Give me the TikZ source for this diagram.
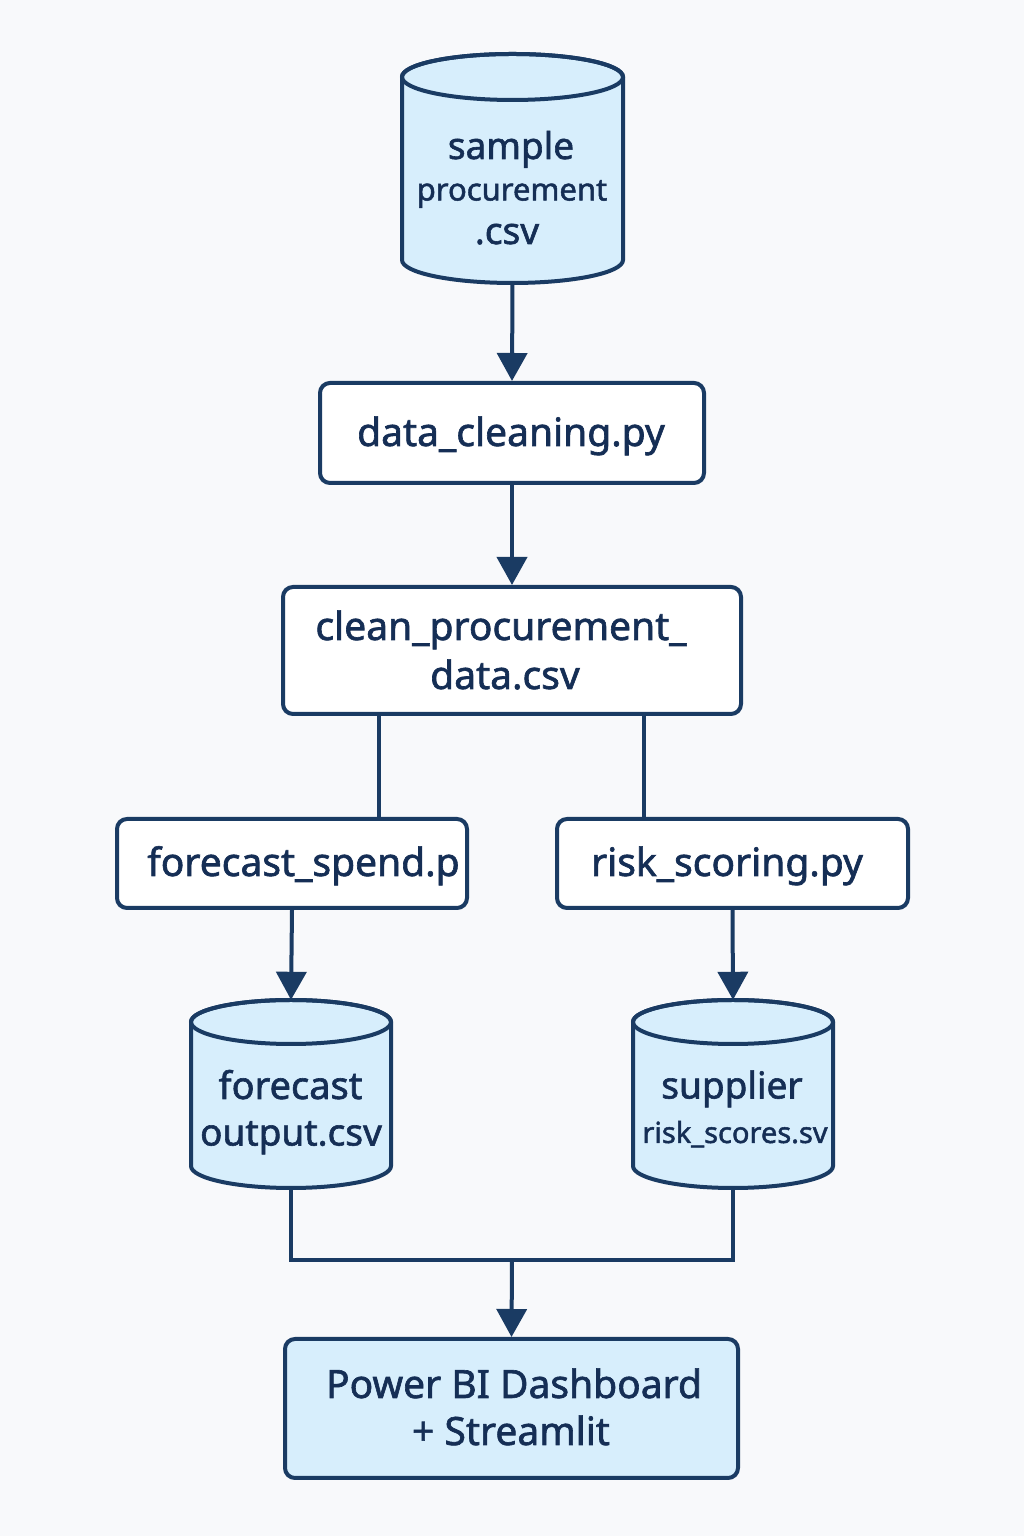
\documentclass[tikz,border=0pt]{standalone}
\usepackage{fontspec}
\setmainfont{Noto Sans}
\newfontfamily\medf{Noto Sans}[FakeBold=1.6]
\usetikzlibrary{arrows.meta}
\definecolor{bg}{HTML}{F8F9FB}
\definecolor{ln}{HTML}{1A3B63}
\definecolor{tx}{HTML}{152E55}
\definecolor{lb}{HTML}{D7EEFC}
\newcommand\drawcyl[5]{%
  \filldraw[cylfill] (#1-#4,#2-#5) -- (#1-#4,#3+#5)
    arc[start angle=180,end angle=360,x radius=#4,y radius=#5]
    -- (#1+#4,#2-#5)
    arc[start angle=0,end angle=180,x radius=#4,y radius=#5] -- cycle;
  \draw[ln,line width=4pt] (#1,#2-#5) ellipse[x radius=#4,y radius=#5];}
\begin{document}
\begin{tikzpicture}[x=1pt,y=1pt,
  box/.style={draw=ln, line width=4pt, rounded corners=10pt, fill=white, inner sep=0pt},
  hold/.style={inner sep=0pt},
  lbl/.style={text=tx, font=\medf\fontsize{39}{39}\selectfont, inner sep=0pt, anchor=base},
  conn/.style={draw=ln, line width=4pt},
  arr/.style={conn, -{Triangle[width=30pt,length=28pt]}},
  cylfill/.style={draw=ln, line width=4pt, fill=lb}]
\fill[bg] (0,0) rectangle (1024,1536);
\useasboundingbox (0,0) rectangle (1024,1536);

% cylinders
\drawcyl{512.5}{1482}{1253}{110.5}{23}
\node[hold, minimum width=221pt, minimum height=229pt] (src) at (512.5,1367.5) {};
\drawcyl{291}{536}{348}{100}{22}
\node[hold, minimum width=200pt, minimum height=188pt] (fout) at (291,442) {};
\drawcyl{733}{536}{348}{100}{22}
\node[hold, minimum width=200pt, minimum height=188pt] (sup) at (733,442) {};

% boxes
\node[box, minimum width=384pt, minimum height=100pt] (clean1) at (512,1103) {};
\node[box, minimum width=458pt, minimum height=127pt] (clean) at (512,885.5) {};
\node[box, minimum width=350pt, minimum height=89pt] (fspend) at (292,672.5) {};
\node[box, minimum width=351pt, minimum height=89pt] (risk) at (732.5,672.5) {};
\node[box, fill=lb, minimum width=453pt, minimum height=139pt] (pbi) at (511.5,127.5) {};

% texts
\node[lbl, font=\medf\fontsize{37}{37}\selectfont] (t1) at (511,1377) {sample};
\node[lbl, font=\medf\fontsize{31}{31}\selectfont] (t2) at (512,1335.5) {procurement};
\node[lbl, font=\medf\fontsize{37}{37}\selectfont] (t3) at (507,1292) {.csv};
\node[lbl] (t4) at (511,1090) {data\_cleaning.py};
\node[lbl] (t5) at (501,896) {clean\_procurement\_};
\node[lbl] (t6) at (505,847) {data.csv};
\node[lbl] (t7) at (303.5,660) {forecast\_spend.p};
\node[lbl] (t8) at (727,660) {risk\_scoring.py};
\node[lbl, font=\medf\fontsize{38}{38}\selectfont] (t9) at (290.5,437) {forecast};
\node[lbl, font=\medf\fontsize{37}{37}\selectfont] (t10) at (291,390.5) {output.csv};
\node[lbl, font=\medf\fontsize{37}{37}\selectfont] (t11) at (732,437.5) {supplier};
\node[lbl, font=\medf\fontsize{29}{29}\selectfont] (t12) at (735,393) {risk\_scores.sv};
\node[lbl] (t13) at (514,138) {Power BI Dashboard};
\node[lbl] (t14) at (511,91) {+ Streamlit};

% connectors
\draw[arr] (src.south) -- (clean1.north);
\draw[arr] (clean1.south) -- (clean.north);
\draw[conn] ([xshift=-133pt]clean.south) -- ([xshift=87pt]fspend.north);
\draw[conn] ([xshift=132pt]clean.south) -- ([xshift=-88.5pt]risk.north);
\draw[arr] (fspend.south) -- (fout.north);
\draw[arr] (risk.south) -- (sup.north);
\coordinate (merge) at (512,276);
\draw[conn] (fout.south) |- (merge) -| (sup.south);
\draw[arr] (merge) -- (pbi.north);
\end{tikzpicture}
\end{document}
